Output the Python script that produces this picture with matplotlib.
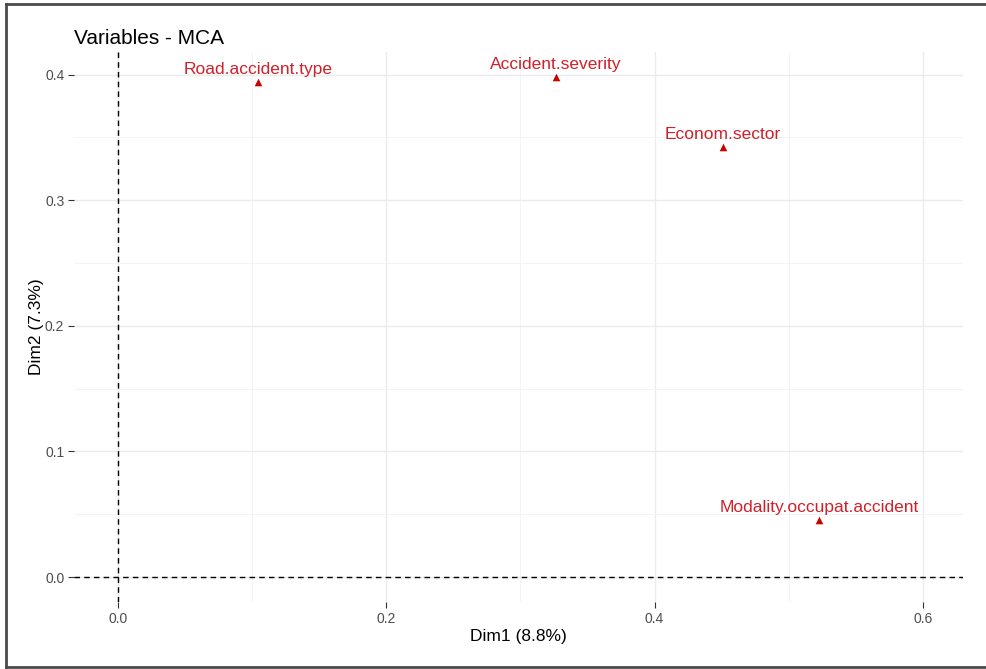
import matplotlib
matplotlib.use("Agg")
import matplotlib.pyplot as plt
from matplotlib.lines import Line2D
from matplotlib.ticker import MultipleLocator, FormatStrFormatter

plt.rcParams['font.family'] = ['Liberation Sans', 'DejaVu Sans']

# MCA variable coordinates
variables = ["Road.accident.type", "Accident.severity", "Econom.sector",
             "Modality.occupat.accident"]
dim1 = [0.1044, 0.3265, 0.4510, 0.5226]
dim2 = [0.3944, 0.3980, 0.3426, 0.0454]

title = "Variables - MCA"
xlabel = "Dim1 (8.8%)"
ylabel = "Dim2 (7.3%)"

W, H, DPI = 987, 669, 100
fig = plt.figure(figsize=(W / DPI, H / DPI), dpi=DPI)
fig.patch.set_facecolor("white")

left, right, top, bottom = 74, 963, 52, 602
ax = fig.add_axes([left / W, 1 - bottom / H, (right - left) / W, (bottom - top) / H])
ax.set_facecolor("white")

ax.set_xlim(-0.0328, 0.630)
ax.set_ylim(-0.0199, 0.418)

ax.xaxis.set_major_locator(MultipleLocator(0.2))
ax.xaxis.set_minor_locator(MultipleLocator(0.1))
ax.yaxis.set_major_locator(MultipleLocator(0.1))
ax.yaxis.set_minor_locator(MultipleLocator(0.05))
ax.xaxis.set_major_formatter(FormatStrFormatter("%.1f"))
ax.yaxis.set_major_formatter(FormatStrFormatter("%.1f"))

ax.grid(True, which="major", color="#EBEBEB", linewidth=1.0)
ax.grid(True, which="minor", color="#F3F3F3", linewidth=0.6)
ax.set_axisbelow(True)
for s in ax.spines.values():
    s.set_visible(False)

ax.tick_params(which="major", length=4, width=0.8, color="#333333",
               labelcolor="#4D4D4D", labelsize=10, pad=3)
ax.tick_params(which="minor", length=0)

ax.axhline(0, color="black", linestyle=(0, (4, 3)), linewidth=1.0)
ax.axvline(0, color="black", linestyle=(0, (4, 3)), linewidth=1.0)

ax.scatter(dim1, dim2, marker="^", s=30, color="#C80000", linewidths=0, zorder=3)
for name, x, y in zip(variables, dim1, dim2):
    ax.annotate(name, (x, y), xytext=(0, 5.5), textcoords="offset points",
                ha="center", va="baseline", color="#D0202A", fontsize=12.5)

ax.set_xlabel(xlabel, fontsize=12.5, color="black", labelpad=2)
ax.set_ylabel(ylabel, fontsize=12.5, color="black", labelpad=0.5)
ax.set_title(title, loc="left", fontsize=15, color="black", pad=6)

# outer frame: top, left and bottom edges
fx0, fy_top, fy_bot = 6 / W, 1 - 4 / H, 1 - 667 / H
frame_kw = dict(transform=fig.transFigure, color="#4A4A4A", linewidth=2)
fig.add_artist(Line2D([fx0, 1.0], [fy_top, fy_top], **frame_kw))
fig.add_artist(Line2D([fx0, fx0], [fy_top, fy_bot], **frame_kw))
fig.add_artist(Line2D([fx0, 1.0], [fy_bot, fy_bot], **frame_kw))

fig.savefig("out.png", dpi=DPI, facecolor="white")
